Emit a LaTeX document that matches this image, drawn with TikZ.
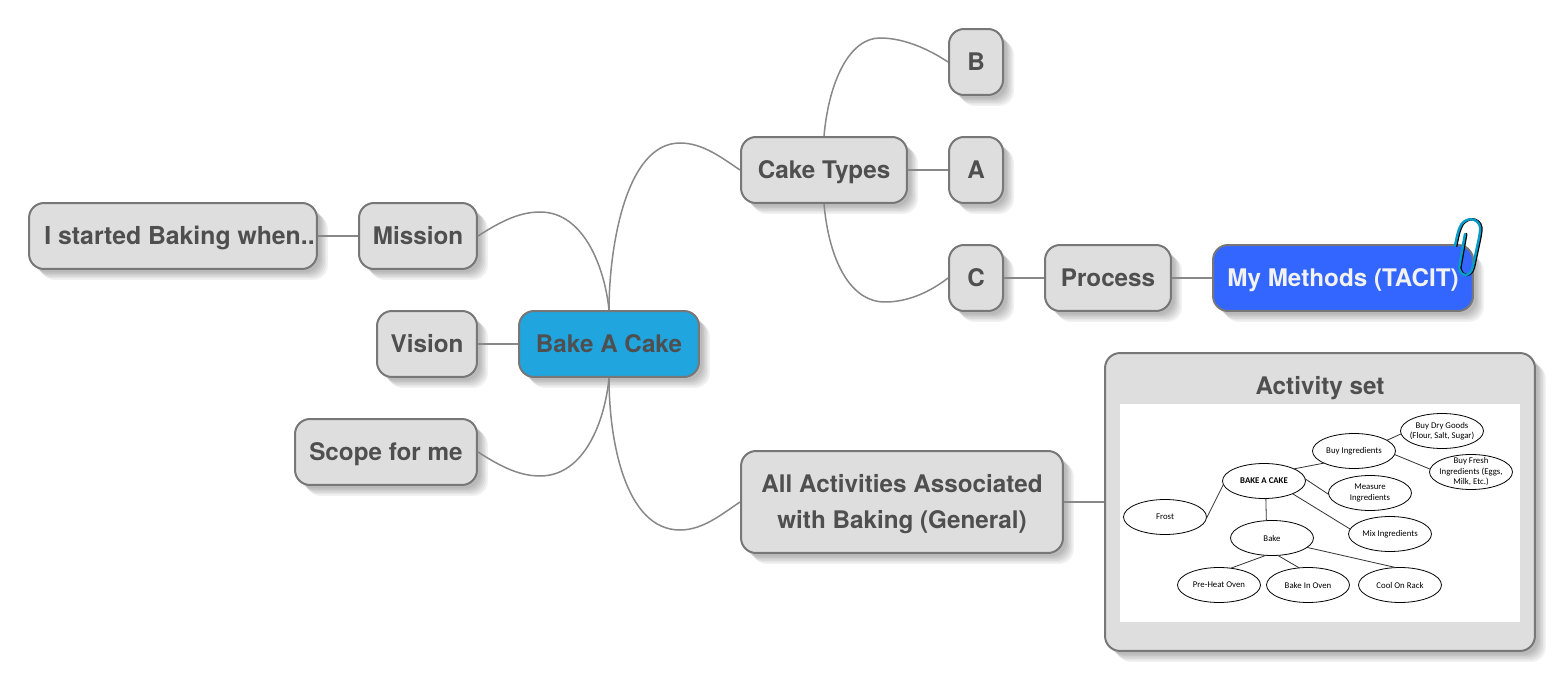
\documentclass[tikz,border=0pt]{standalone}
\usepackage{fontspec}
\setmainfont{TeX Gyre Heros}
\newfontfamily\sketchfont{Carlito}
\usetikzlibrary{shadows,shapes.geometric}

\definecolor{boxgray}{HTML}{DEDEDE}
\definecolor{rimgray}{HTML}{777777}
\definecolor{wiregray}{HTML}{888888}
\definecolor{inkgray}{HTML}{4F4F4F}
\definecolor{bakeblue}{HTML}{20A5DF}
\definecolor{tacitblue}{HTML}{3366FF}
\definecolor{clipblue}{HTML}{0A9CC8}

\newcommand{\clipwire}{(1455,246) .. controls (1457,236) and (1458,231) .. (1460,227)
  .. controls (1463,219) and (1474,216) .. (1479,224) .. controls (1481,228) and (1480,232) .. (1479,238)
  -- (1473,266) .. controls (1471,277) and (1461,278) .. (1459,268) -- (1465,234)}

\tikzset{
  softlayer/.style={general shadow={shadow xshift=#1, shadow yshift=-#1, fill=black, draw=none, opacity=0.05}},
  softshadow/.style={softlayer=0.22cm, softlayer=0.19cm, softlayer=0.16cm, softlayer=0.13cm, softlayer=0.10cm, softlayer=0.07cm},
  mapbox/.style={rectangle, rounded corners=0.3cm, draw=rimgray, line width=0.04cm,
    fill=boxgray, text=inkgray, font=\fontsize{13.8}{20.5}\selectfont\bfseries, align=center,
    minimum height=1.32cm, inner sep=0pt, outer sep=0.02cm, text height=0.44cm, text depth=0.08cm, softshadow},
  maptext/.style={text=inkgray, font=\fontsize{13.8}{20.5}\selectfont\bfseries, align=center, inner sep=0pt},
  mapwire/.style={draw=wiregray, line width=0.03cm},
  sketchoval/.style={ellipse, draw=black, line width=0.016cm, fill=white, minimum width=1.66cm,
    minimum height=0.7cm, inner sep=-1cm, outer sep=0pt, align=center,
    font=\sketchfont\fontsize{5}{6}\selectfont},
  sketchline/.style={draw=black!80, line width=0.016cm}
}

\begin{document}
\begin{tikzpicture}[x=0.02cm, y=-0.02cm]
  \useasboundingbox (0,0) rectangle (1566,682);

  % the map itself
  \node[mapbox, fill=bakeblue, minimum width=3.6cm] (bake) at (609,344) {Bake A Cake};
  \node[mapbox, minimum width=3.32cm] (types) at (824,170) {Cake Types};
  \node[mapbox, minimum width=1.08cm] (typeb) at (976,62) {B};
  \node[mapbox, minimum width=1.08cm] (typea) at (976,170) {A};
  \node[mapbox, minimum width=1.08cm] (typec) at (976,278) {C};
  \node[mapbox, minimum width=2.52cm] (process) at (1108,278) {Process};
  \node[mapbox, fill=tacitblue, text=white!95!black, minimum width=5.2cm] (methods) at (1343,278) {My Methods (TACIT)};
  \node[mapbox, minimum width=2.36cm] (mission) at (418,236) {Mission};
  \node[mapbox, minimum width=5.76cm, font=\fontsize{14.1}{20.5}\selectfont\bfseries] (started) at (173,236) {\hspace*{0.26cm}I started Baking when..};
  \node[mapbox, minimum width=2cm] (vision) at (427,344) {Vision};
  \node[mapbox, minimum width=3.64cm] (scope) at (386,452) {Scope for me};
  \node[mapbox, minimum width=6.44cm, minimum height=2.04cm] (general) at (902,502) {};
  \node[maptext] (generaltext) at (902,504) {All Activities Associated\\with Baking (General)};
  \node[mapbox, minimum width=8.6cm, minimum height=5.96cm] (activity) at (1320,502) {};
  \node[maptext] (activitytitle) at (1320,388) {Activity set};

  % curved and straight branches
  \draw[mapwire] (bake.north) .. controls (609,250) and (625,143) .. (680,143)
    .. controls (703,143) and (722,158) .. (types.west);
  \draw[mapwire] (bake.north) .. controls (605,270) and (585,212) .. (540,212)
    .. controls (517,212) and (497,224) .. (mission.east);
  \draw[mapwire] (bake.south) .. controls (609,440) and (625,530) .. (680,530)
    .. controls (703,530) and (722,514) .. (general.west);
  \draw[mapwire] (bake.south) .. controls (605,420) and (585,476) .. (540,476)
    .. controls (517,476) and (497,464) .. (scope.east);
  \draw[mapwire] (types.north) .. controls (829,80) and (850,38) .. (880,38)
    .. controls (905,38) and (930,50) .. (typeb.west);
  \draw[mapwire] (types.south) .. controls (829,260) and (850,302) .. (885,302)
    .. controls (908,302) and (930,292) .. (typec.west);
  \draw[mapwire] (vision) -- (bake);
  \draw[mapwire] (started) -- (mission);
  \draw[mapwire] (types) -- (typea);
  \draw[mapwire] (typec) -- (process);
  \draw[mapwire] (process) -- (methods);
  \draw[mapwire] (general) -- (activity);

  % paper clip
  \draw[black, line width=0.05cm, line cap=round, xshift=0.025cm] \clipwire;
  \draw[clipblue, line width=0.05cm, line cap=round] \clipwire;
  \fill[tacitblue] (1450,247) rectangle (1458,256);

  % picture inside the activity box
  \node[rectangle, fill=white, minimum width=8cm, minimum height=4.36cm, inner sep=0pt] (sheet) at (1320,513) {};
  \node[sketchoval] (drygoods) at (1442,431) {Buy Dry Goods\\(Flour, Salt, Sugar)};
  \node[sketchoval] (fresh) at (1471,472) {Buy Fresh\\Ingredients (Eggs,\\Milk, Etc.)};
  \node[sketchoval] (buying) at (1354,451) {Buy Ingredients};
  \node[sketchoval, font=\sketchfont\fontsize{5}{6}\selectfont\bfseries] (cake) at (1264,481) {BAKE A CAKE};
  \node[sketchoval] (measure) at (1370,493) {Measure\\Ingredients};
  \node[sketchoval] (frost) at (1165,517) {Frost};
  \node[sketchoval] (mixing) at (1390,534) {Mix Ingredients};
  \node[sketchoval] (baking) at (1272,538) {Bake};
  \node[sketchoval] (preheat) at (1219,585) {Pre-Heat Oven};
  \node[sketchoval] (inoven) at (1308,585) {Bake In Oven};
  \node[sketchoval] (rack) at (1400,585) {Cool On Rack};

  \draw[sketchline] (cake.22) -- (buying.202);
  \draw[sketchline] (buying.18) -- (drygoods.184);
  \draw[sketchline] (buying.355) -- (fresh.176);
  \draw[sketchline] (cake.3) -- (measure.182);
  \draw[sketchline] (cake.336) -- (mixing.173);
  \draw[sketchline] (cake.276) -- (baking.108);
  \draw[sketchline] (cake.185) -- (frost.358);
  \draw[sketchline] (baking.251) -- (preheat.55);
  \draw[sketchline] (baking.288) -- (inoven.117);
  \draw[sketchline] (baking.345) -- (rack.103);
\end{tikzpicture}
\end{document}
